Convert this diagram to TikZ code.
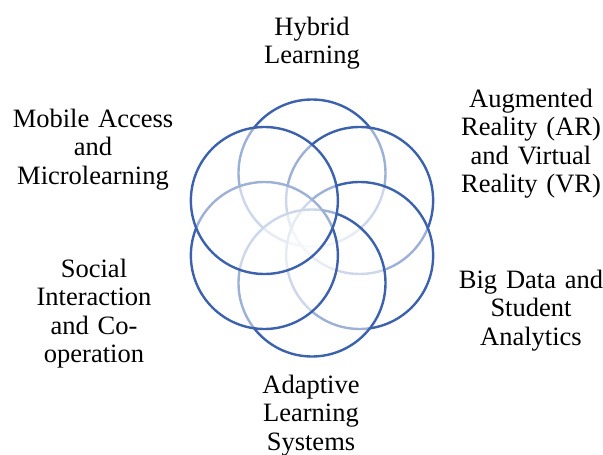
\documentclass[tikz,border=0pt]{standalone}
\usepackage{fontspec}
\setmainfont{Liberation Serif}
\usetikzlibrary{calc}
\definecolor{ringblue}{RGB}{60,98,174}
\begin{document}
\begin{tikzpicture}[x=1pt,y=-1pt,
  ring/.style={circle, inner sep=0pt, minimum size=147pt, draw=ringblue, line width=2.4pt, fill=white, fill opacity=0.5},
  lbl/.style={anchor=base, inner sep=0pt, text width=180pt, align=center,
    font=\fontsize{26.5}{28.5}\selectfont}]
\useasboundingbox (0,0) rectangle (603,455);
\coordinate (c) at (312,228);
\foreach \n/\a in {top/90, ur/30, lr/-30, bot/-90, ll/-150, ul/150}{
  \node[ring] (\n) at ($(c)+({55*cos(\a)},{-55*sin(\a)})$) {};
}
\node[lbl] (hyb) at (312,35) {Hybrid\\Learning};
\node[lbl] (mob) at (93,127) {Mobile Access\\and\\Microlearning};
\node[lbl] (aug) at (531,107) {Augmented\\Reality (AR)\\and Virtual\\Reality (VR)};
\node[lbl] (soc) at (94,277) {Social\\Interaction\\and Co-\\operation};
\node[lbl] (big) at (531,288) {Big Data and\\Student\\Analytics};
\node[lbl] (ada) at (311,393) {Adaptive\\Learning\\Systems};
\end{tikzpicture}
\end{document}
